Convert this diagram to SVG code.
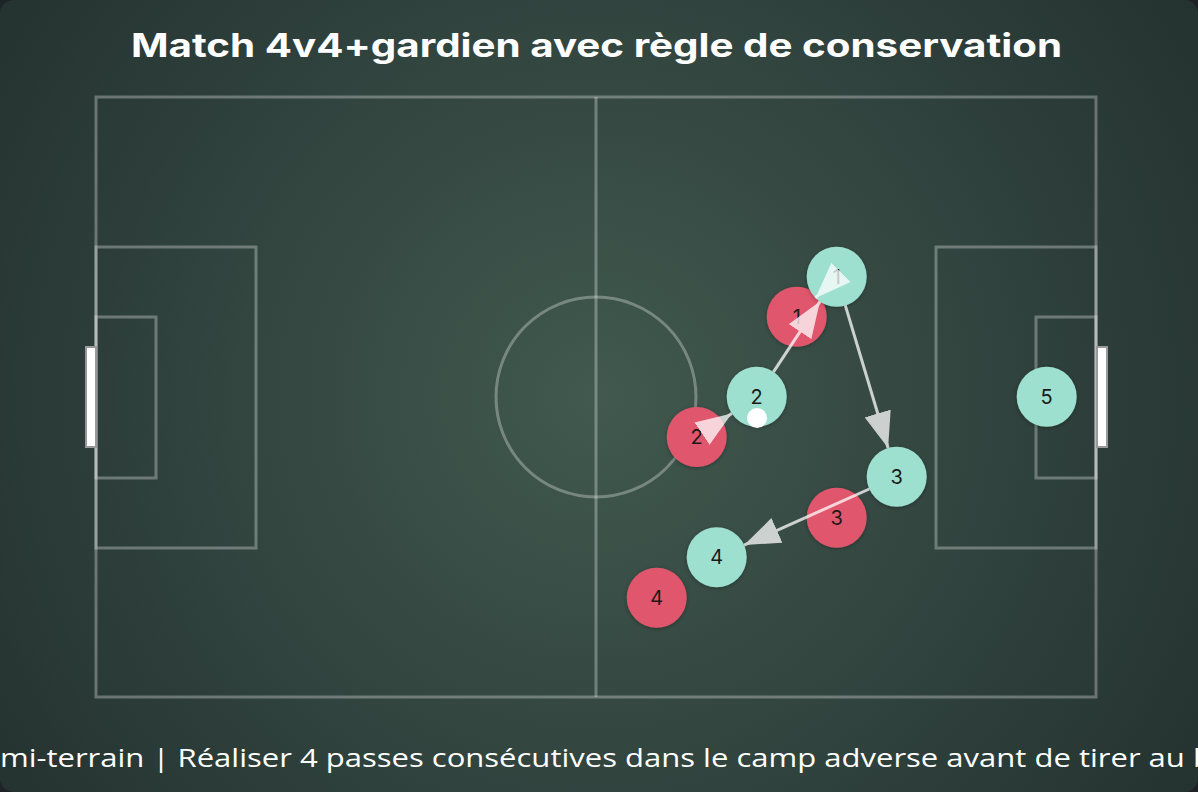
<svg xmlns="http://www.w3.org/2000/svg" width="1198" height="792" viewBox="0 0 1198 792">
  <defs>
    <radialGradient id="bg" cx="596" cy="397" r="720" gradientUnits="userSpaceOnUse">
      <stop offset="0" stop-color="#41594f"/>
      <stop offset="1" stop-color="#243230"/>
    </radialGradient>
    <marker id="ah" viewBox="0 0 12 9" refX="12" refY="4.5" markerWidth="12" markerHeight="9" markerUnits="strokeWidth" orient="auto">
      <path d="M0,0 L12,4.5 L0,9 z" fill="#fff"/>
    </marker>
    <filter id="sh" x="-30%" y="-30%" width="160%" height="160%">
      <feDropShadow dx="0" dy="1" stdDeviation="2" flood-color="#000" flood-opacity="0.3"/>
    </filter>
  </defs>
  <style>
    .line { fill: none; stroke: #fff; stroke-opacity: 0.3; stroke-width: 3; }
    .goal { fill: #fff; stroke: #999; stroke-width: 2; }
    .teal { fill: #9ee0cf; filter: url(#sh); }
    .red { fill: #e0566c; filter: url(#sh); }
    .num { font-family: Inter, "Open Sans", sans-serif; font-size: 20px; fill: #1a1a1a; text-anchor: middle; }
    .pass { fill: none; stroke: #fff; stroke-width: 3; marker-end: url(#ah); }
    .title { font-family: Inter, "Open Sans", sans-serif; font-weight: 700; font-size: 32px; fill: #fff; text-anchor: middle; }
    .caption { font-family: "Open Sans", Inter, sans-serif; font-size: 26px; fill: #fff; text-anchor: middle; }
  </style>

  <rect x="0" y="0" width="1198" height="792" fill="#1e2326"/>
  <rect x="0" y="0" width="1198" height="792" rx="14" fill="url(#bg)"/>

  <text class="title" x="596.5" y="57" textLength="931" lengthAdjust="spacingAndGlyphs">Match 4v4+gardien avec règle de conservation</text>

  <g id="field">
    <rect class="line" x="96" y="97" width="1000" height="600"/>
    <line class="line" x1="596" y1="97" x2="596" y2="697"/>
    <circle class="line" cx="596" cy="397" r="100"/>
    <rect class="line" x="96" y="247" width="160" height="301"/>
    <rect class="line" x="96" y="317" width="60" height="161"/>
    <rect class="line" x="936" y="247" width="160" height="301"/>
    <rect class="line" x="1036" y="317" width="60" height="161"/>
    <rect class="goal" x="86" y="347" width="10" height="100"/>
    <rect class="goal" x="1097" y="347" width="10" height="100"/>
  </g>

  <g id="red1"><circle class="red" cx="796.7" cy="316.7" r="30"/><text class="num" x="796.7" y="323.7">1</text></g>
  <g id="red2"><circle class="red" cx="696.7" cy="437" r="30"/><text class="num" x="696.7" y="444">2</text></g>
  <g id="red3"><circle class="red" cx="836.7" cy="517.7" r="30"/><text class="num" x="836.7" y="524.7">3</text></g>
  <g id="red4"><circle class="red" cx="656.7" cy="597.7" r="30"/><text class="num" x="656.7" y="604.7">4</text></g>

  <g id="teal1"><circle class="teal" cx="836.7" cy="276.7" r="30"/><text class="num" x="836.7" y="283.7">1</text></g>
  <g id="teal2"><circle class="teal" cx="756.7" cy="396.7" r="30"/><text class="num" x="756.7" y="403.7">2</text></g>
  <g id="teal3"><circle class="teal" cx="896.7" cy="476.7" r="30"/><text class="num" x="896.7" y="483.7">3</text></g>
  <g id="teal4"><circle class="teal" cx="716.7" cy="557.3" r="30"/><text class="num" x="716.7" y="564.3">4</text></g>
  <g id="teal5"><circle class="teal" cx="1046.7" cy="396.7" r="30"/><text class="num" x="1046.7" y="403.7">5</text></g>

  <g id="ball"><circle cx="757" cy="418" r="10" fill="#fff"/></g>

  <g id="connectors">
    <g opacity="0.75"><path class="pass" d="M773.5,371.8 L819.9,301.6"/></g>
    <g opacity="0.75"><path class="pass" d="M845.3,305.4 L888.1,448"/></g>
    <g opacity="0.75"><path class="pass" d="M869.3,489 L744.1,545.1"/></g>
    <g opacity="0.75"><path class="pass" d="M817.9,295.5 L815.5,297.9"/></g>
    <g opacity="0.75"><path class="pass" d="M721.6,420.3 L731.8,413.4"/></g>
  </g>

  <text class="caption" x="601" y="767" textLength="1282" lengthAdjust="spacingAndGlyphs">Demi-terrain | Réaliser 4 passes consécutives dans le camp adverse avant de tirer au but</text>
</svg>
